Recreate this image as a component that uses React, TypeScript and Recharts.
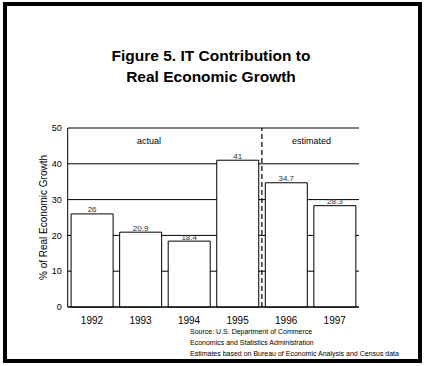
import React from "react";
import {
  BarChart,
  Bar,
  XAxis,
  YAxis,
  CartesianGrid,
  ReferenceLine,
  LabelList,
} from "recharts";

const years = ["1992", "1993", "1994", "1995", "1996", "1997"];
const itShare = [26, 20.9, 18.4, 41, 34.7, 28.3];
const yTicks = [0, 10, 20, 30, 40, 50];
const titleLines = ["Figure 5. IT Contribution to", "Real Economic Growth"];
const sourceLines = [
  "Source: U.S. Department of Commerce",
  "Economics and Statistics Administration",
  "Estimates based on Bureau of Economic Analysis and Census data",
];
const periodLabels = ["actual", "estimated"];

const data = years.map((y, i) => ({ year: y, value: itShare[i] }));

const FONT = "'Liberation Sans', Arial, Helvetica, sans-serif";

export default function App() {
  return (
    <div
      style={{
        position: "absolute",
        left: 0,
        top: 0,
        width: 425,
        height: 366,
        background: "#fff",
        fontFamily: FONT,
      }}
    >
      <div
        style={{
          position: "absolute",
          left: 3,
          top: 2,
          width: 419,
          height: 361,
          boxSizing: "border-box",
          border: "4px solid #000",
        }}
      />
      <BarChart
        width={425}
        height={366}
        data={data}
        margin={{ top: 128, right: 66, bottom: 39, left: 30 }}
        barCategoryGap="7%"
        style={{ position: "absolute", left: 0, top: 0 }}
      >
        <CartesianGrid
          vertical={false}
          stroke="#000"
          strokeWidth={1}
        />
        <XAxis
          dataKey="year"
          height={20}
          axisLine={{ stroke: "#000", strokeWidth: 1 }}
          tickLine={false}
          tickSize={0}
          tickMargin={10}
          tick={{ fill: "#000", fontSize: 10, fontFamily: FONT }}
          interval={0}
        />
        <YAxis
          width={37.7}
          domain={[0, 50]}
          ticks={yTicks}
          axisLine={{ stroke: "#000", strokeWidth: 1 }}
          tickLine={false}
          tickSize={0}
          tickMargin={6}
          tick={{ fill: "#000", fontSize: 9, fontFamily: FONT }}
          label={{
            value: "% of Real Economic Growth",
            angle: -90,
            position: "center",
            dx: -5.5,
            fill: "#000",
            fontSize: 10,
            fontFamily: FONT,
          }}
        />
        <Bar
          dataKey="value"
          fill="#fff"
          stroke="#000"
          strokeWidth={1}
          isAnimationActive={false}
        >
          <LabelList
            dataKey="value"
            position="top"
            offset={1.5}
            fill="#333"
            fontSize={8}
            fontFamily={FONT}
          />
        </Bar>
        <ReferenceLine
          x="1995"
          position="end"
          stroke="#000"
          strokeWidth={1.2}
          strokeDasharray="5 3"
        />
        <ReferenceLine x="1997" position="end" stroke="#000" strokeWidth={1} />
      </BarChart>
      <svg
        width={425}
        height={366}
        style={{ position: "absolute", left: 0, top: 0, pointerEvents: "none" }}
      >
        <g fontFamily={FONT} fill="#000">
          <text x={211} y={60.5} fontSize={15.5} fontWeight="bold" textAnchor="middle">
            {titleLines[0]}
          </text>
          <text x={211} y={82} fontSize={15.5} fontWeight="bold" textAnchor="middle">
            {titleLines[1]}
          </text>
          <text x={149} y={144} fontSize={9} textAnchor="middle">
            {periodLabels[0]}
          </text>
          <text x={311.5} y={144} fontSize={9} textAnchor="middle">
            {periodLabels[1]}
          </text>
          {sourceLines.map((s, i) => (
            <text key={i} x={190} y={334 + i * 11} fontSize={7}>
              {s}
            </text>
          ))}
        </g>
      </svg>
    </div>
  );
}
